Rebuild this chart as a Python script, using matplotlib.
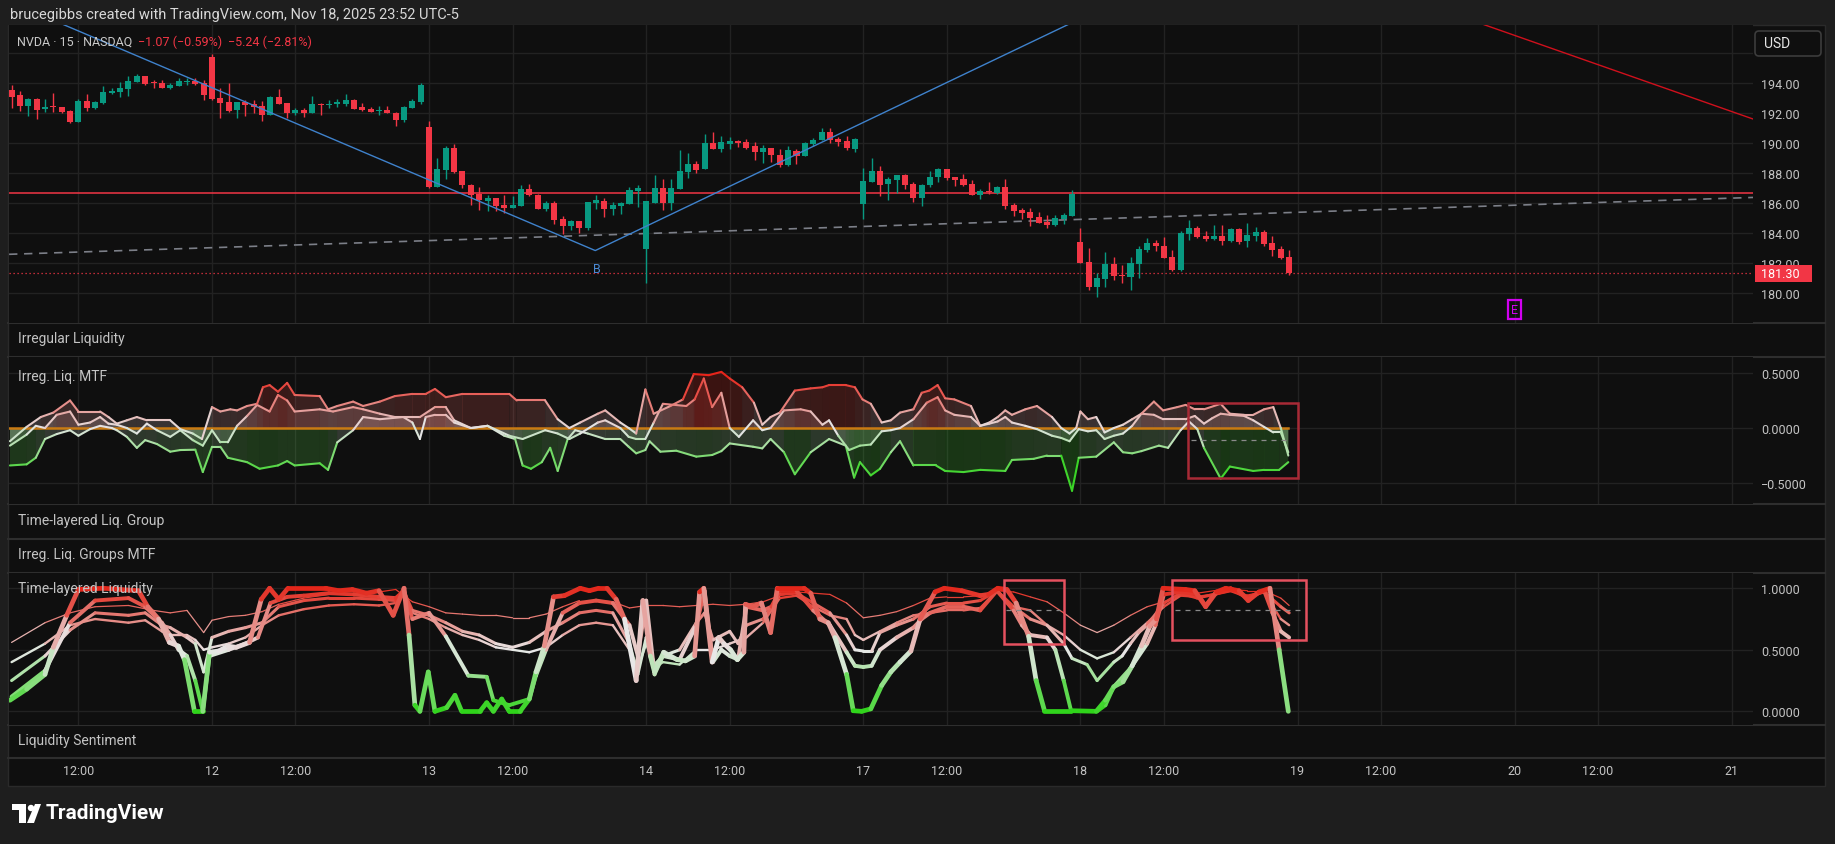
import numpy as np
import matplotlib
matplotlib.use("Agg")
import matplotlib.pyplot as plt
import matplotlib.transforms as mtransforms
from matplotlib.collections import LineCollection, PolyCollection
from matplotlib.colors import LinearSegmentedColormap, Normalize
from matplotlib.patches import Rectangle, FancyBboxPatch, Circle, Polygon

# ---------------- data ----------------
first_bar = -24   # Nov 11, bar index (Nov 12 09:30 = 0, 26 bars per session)

opens = [193.55, 193.21, 192.50, 192.95, 192.30, 192.41, 192.41, 192.15, 191.41, 192.81, 192.35, 192.68, 193.35, 193.41, 193.61, 194.08, 194.48, 194.08, 194.01, 193.68, 193.81, 194.08, 194.15, 194.01,
         195.75, 193.01, 192.75, 192.21, 192.75, 192.61, 192.48, 191.88, 193.08, 192.68, 192.01, 192.21, 192.01, 192.61, 192.55, 192.61, 192.61, 192.88, 192.41, 192.28, 192.15, 192.21, 192.01, 191.55, 192.35, 192.75,
         191.08, 187.08, 188.21, 189.68, 188.15, 187.21, 186.61, 186.15, 186.35, 185.88, 185.68, 185.81, 186.95, 186.55, 185.61, 186.01, 184.95, 184.48, 184.81, 184.35, 186.01, 186.15, 185.61, 185.81, 185.95, 186.81,
         182.95, 186.01, 187.01, 186.01, 186.95, 188.08, 188.61, 188.28, 190.01, 189.61, 189.95, 190.15, 190.08, 189.81, 189.41, 189.68, 189.21, 188.55, 189.48, 189.15, 189.95, 190.21, 190.75, 190.28, 190.15, 189.61,
         185.95, 187.41, 188.15, 187.28, 187.55, 187.88, 187.28, 186.35, 187.21, 187.75, 188.28, 187.75, 187.61, 187.28, 186.55, 186.81, 186.68, 187.08, 185.88, 185.55, 185.41, 185.08, 184.75, 184.55, 184.95, 185.15,
         183.41, 182.08, 180.41, 180.95, 181.95, 181.21, 181.08, 181.95, 182.88, 183.35, 183.15, 182.41, 181.55, 183.95, 184.35, 183.81, 183.61, 183.81, 183.48, 184.28, 183.48, 183.81, 184.08, 183.35, 182.95, 182.41]
highs = [193.90, 193.46, 193.01, 193.01, 192.95, 193.35, 192.41, 192.19, 192.95, 193.28, 192.79, 193.81, 193.68, 194.08, 194.48, 194.61, 194.48, 194.21, 194.21, 194.01, 194.35, 194.35, 194.35, 194.21,
         195.95, 193.68, 194.01, 192.75, 192.90, 192.88, 192.81, 193.12, 193.61, 192.68, 192.35, 192.35, 193.17, 192.66, 192.88, 192.95, 193.28, 192.95, 192.68, 192.41, 192.48, 192.48, 192.08, 192.48, 192.95, 194.01,
         191.48, 189.01, 189.81, 189.95, 188.15, 187.28, 187.08, 186.55, 186.35, 186.55, 186.48, 187.21, 187.28, 186.61, 186.12, 186.12, 185.15, 184.88, 184.81, 186.08, 186.55, 186.35, 186.08, 186.08, 187.08, 187.21,
         186.15, 187.88, 187.61, 187.61, 189.55, 189.35, 188.81, 190.61, 190.75, 190.48, 190.41, 190.21, 190.28, 190.08, 189.88, 189.68, 189.61, 189.81, 189.61, 190.08, 190.35, 191.01, 191.01, 190.41, 190.48, 190.35,
         188.35, 189.01, 188.48, 187.75, 187.88, 187.95, 187.41, 187.28, 188.15, 188.35, 188.28, 187.75, 187.95, 187.55, 186.95, 187.41, 187.15, 187.61, 186.01, 185.68, 185.68, 185.41, 185.21, 185.21, 185.35, 186.88,
         184.35, 183.01, 181.35, 182.75, 182.41, 181.88, 182.41, 183.15, 183.68, 183.55, 183.75, 182.88, 184.15, 184.88, 184.48, 184.15, 184.55, 184.55, 184.35, 184.35, 184.68, 184.41, 184.21, 183.81, 183.15, 182.88]
lows = [192.35, 192.17, 191.84, 191.61, 192.08, 192.08, 192.01, 191.35, 191.41, 192.17, 192.28, 192.61, 193.28, 193.10, 193.17, 194.08, 193.90, 193.68, 193.68, 193.64, 193.81, 193.86, 193.90, 192.88,
        192.88, 191.68, 192.08, 191.68, 191.79, 192.01, 191.48, 191.88, 192.61, 191.68, 191.90, 191.75, 192.01, 191.86, 192.35, 192.41, 192.50, 192.28, 192.17, 192.08, 191.86, 192.01, 191.15, 191.41, 192.35, 192.61,
        187.01, 187.08, 187.61, 188.01, 187.01, 185.88, 185.55, 185.44, 185.48, 185.35, 185.64, 185.81, 186.48, 185.61, 185.48, 184.57, 183.90, 184.17, 184.01, 184.21, 185.61, 185.08, 185.21, 185.28, 185.95, 185.75,
        180.68, 186.01, 185.55, 185.55, 186.95, 187.68, 188.01, 188.28, 189.61, 189.41, 189.61, 189.75, 189.61, 188.88, 188.68, 188.75, 188.41, 188.48, 188.61, 189.15, 189.81, 190.21, 190.01, 189.81, 189.55, 189.41,
        184.95, 187.41, 186.48, 186.21, 186.68, 186.95, 186.08, 185.81, 187.08, 187.41, 187.55, 187.15, 187.15, 186.55, 186.28, 186.61, 186.61, 185.61, 185.15, 184.95, 184.48, 184.68, 184.35, 184.48, 184.57, 185.15,
        182.01, 180.21, 179.75, 180.41, 180.88, 180.68, 180.21, 181.01, 182.75, 182.81, 182.35, 181.48, 181.48, 183.55, 183.68, 183.48, 183.55, 183.21, 183.41, 183.28, 183.08, 183.48, 183.15, 182.48, 182.28, 181.21]
closes = [193.10, 192.50, 192.95, 192.24, 192.41, 192.39, 192.08, 191.41, 192.81, 192.35, 192.75, 193.41, 193.48, 193.68, 194.15, 194.48, 193.95, 194.01, 193.68, 193.88, 194.15, 194.15, 193.95, 193.21,
          192.95, 192.68, 192.15, 192.75, 192.55, 192.41, 191.88, 193.08, 192.61, 192.01, 192.21, 192.01, 192.61, 192.55, 192.61, 192.75, 192.88, 192.28, 192.21, 192.08, 192.21, 192.01, 191.55, 192.41, 192.81, 193.88,
          187.08, 188.28, 189.68, 188.08, 187.21, 186.55, 186.21, 186.35, 185.81, 185.68, 185.88, 186.95, 186.55, 185.61, 186.01, 184.88, 184.48, 184.81, 184.35, 186.08, 186.21, 185.61, 185.88, 186.01, 186.88, 187.01,
          186.15, 187.01, 186.01, 187.01, 188.15, 188.61, 188.21, 190.01, 189.61, 190.08, 190.15, 190.01, 189.68, 189.41, 189.68, 189.21, 188.55, 189.55, 189.15, 190.01, 190.21, 190.75, 190.21, 190.08, 189.68, 190.28,
          187.48, 188.15, 187.21, 187.61, 187.88, 187.21, 186.35, 187.21, 187.75, 188.28, 187.68, 187.55, 187.21, 186.55, 186.81, 186.75, 187.08, 185.81, 185.48, 185.35, 185.01, 184.68, 184.55, 185.01, 185.21, 186.61,
          182.01, 180.41, 181.01, 181.95, 181.15, 181.15, 182.01, 182.95, 183.35, 183.15, 182.35, 181.55, 184.01, 184.35, 183.75, 183.61, 183.81, 183.48, 184.28, 183.41, 183.88, 184.08, 183.28, 182.88, 182.35, 181.30]

last_price = 181.30
resist_level = 186.67
blue_x = [-24.3, 45.9, 105.0]
blue_p = [199.46, 182.82, 198.58]
red_trend_x = [150.0, 184.6]
red_trend_p = [198.37, 191.60]
gray_trend_x = [-24.3, 184.6]
gray_trend_p = [182.57, 186.37]

price_ticks = [180, 182, 184, 186, 188, 190, 192, 194, 196]
tick_pos = [-16, 0, 10, 26, 36, 52, 62, 78, 88, 104, 114, 130, 140, 156, 166, 182]
tick_lab = ["12:00", "12", "12:00", "13", "12:00", "14", "12:00", "17", "12:00", "18",
            "12:00", "19", "12:00", "20", "12:00", "21"]

# Irreg. Liq. MTF : upper, middle and lower lines (bar, value)
mtf_top = [(-24.2, -0.12), (-22.2, 0.01), (-20.5, 0.10), (-19, 0.14), (-17, 0.25), (-16, 0.15), (-13.4, 0.15), (-12.4, 0.10),
           (-11.4, 0.04), (-10.2, 0.07), (-9, 0.10), (-7.8, 0.07), (-5, 0.07), (-3.8, -0.01), (-2.3, -0.05), (-1.2, -0.10),
           (0, 0.19), (1, 0.15), (2.2, 0.17), (3, 0.16), (4.2, 0.20), (5.4, 0.22), (6.1, 0.37), (6.9, 0.39), (7.9, 0.33),
           (9, 0.41), (9.9, 0.30), (12.9, 0.29), (13.9, 0.17), (15, 0.20), (16.9, 0.24), (18.1, 0.20), (20.1, 0.24),
           (21.9, 0.29), (24, 0.31), (25.6, 0.31), (26.7, 0.355), (28, 0.28), (30, 0.31), (35.6, 0.31), (36.5, 0.25),
           (39.9, 0.25), (41.4, 0.08), (42.8, 0.0), (44.1, 0.05), (46.2, 0.13), (47.1, 0.16), (48.9, 0.05), (49.9, 0.0),
           (50.8, -0.05), (51.9, 0.35), (52.9, 0.13), (54.9, 0.20), (56.4, 0.26), (57.7, 0.49), (59.5, 0.48), (61, 0.51),
           (62, 0.45), (63.5, 0.37), (64.9, 0.23), (65.9, 0.03), (66.9, 0.10), (68, 0.14), (69.8, 0.34), (71.7, 0.36),
           (73.1, 0.37), (73.9, 0.39), (75.9, 0.39), (77, 0.37), (77.9, 0.26), (78.9, 0.22), (80.2, 0.05), (81.3, 0.07),
           (82.4, 0.14), (84, 0.17), (85, 0.32), (85.9, 0.34), (86.9, 0.39), (87.8, 0.27), (88.9, 0.26), (90.9, 0.20),
           (92, 0.02), (93.1, 0.05), (94.1, 0.10), (95, 0.16), (95.8, 0.12), (97.4, 0.17), (98.8, 0.20), (100.6, 0.10),
           (101.7, 0.0), (102.7, -0.05), (103.5, 0.0), (104, 0.15), (104.9, 0.08), (105.9, 0.10), (106.9, -0.04),
           (108, 0.0), (109.1, 0.03), (110.2, 0.08), (111.3, 0.13), (112.8, 0.24), (113.9, 0.16), (115.6, 0.19),
           (116.6, 0.21), (117.7, 0.17), (118.8, 0.17), (120.8, 0.22), (121.9, 0.13), (123.6, 0.12), (124.7, 0.12),
           (126, 0.17), (127.1, 0.19), (128, 0.0), (128.9, -0.25)]
mtf_mid = [(-24.2, -0.16), (-22.2, -0.06), (-21.1, 0.02), (-20, 0.0), (-18.6, 0.12), (-17, 0.15), (-16, 0.03), (-14.6, 0.05),
           (-13.4, 0.10), (-12.4, 0.04), (-11.4, 0.03), (-10.2, 0.0), (-9, -0.05), (-7.8, 0.04), (-6.6, -0.02), (-5, -0.08),
           (-3.8, -0.02), (-2.3, -0.11), (-1.1, -0.16), (0, -0.02), (1, -0.13), (1.9, -0.13), (3, 0.02), (4.2, 0.11),
           (5.4, 0.21), (6.9, 0.15), (7.9, 0.30), (9, 0.25), (9.9, 0.15), (12.9, 0.17), (14.5, 0.15), (16.9, 0.19),
           (18.1, 0.17), (20.1, 0.13), (21.9, 0.10), (24.9, 0.10), (26.7, 0.19), (28, 0.19), (29, 0.07), (31, 0.0),
           (33, 0.02), (35.6, -0.07), (37.2, -0.10), (39.9, -0.02), (41.4, -0.05), (42.8, -0.10), (44.1, -0.05),
           (46.2, 0.05), (47.1, 0.07), (48.9, 0.0), (49.9, -0.08), (50.8, -0.10), (51.9, -0.10), (52.9, 0.05), (54, 0.22),
           (56.8, 0.20), (57.8, 0.26), (58.9, 0.45), (59.9, 0.19), (61, 0.32), (62, 0.0), (63.1, -0.08), (64.8, 0.07),
           (65.9, -0.02), (66.9, 0.0), (68.5, 0.16), (70.5, 0.17), (71.7, 0.15), (73.1, 0.03), (73.9, 0.07), (75, -0.07),
           (76.3, -0.20), (77.6, -0.16), (78.9, -0.15), (80.2, -0.03), (81.3, -0.02), (82.4, 0.0), (84, 0.08),
           (85.6, 0.23), (86.9, 0.28), (87.8, 0.16), (88.9, 0.12), (90.9, 0.10), (92, 0.02), (93.1, 0.04), (94.1, 0.06),
           (95, 0.10), (95.8, 0.05), (97.4, 0.02), (98.8, -0.01), (100.6, -0.07), (101.7, -0.09), (102.7, -0.12),
           (103.8, -0.01), (104.9, -0.03), (105.9, -0.02), (106.9, -0.10), (108, -0.07), (109.1, -0.05), (110.2, 0.02),
           (111.3, 0.13), (112.8, 0.12), (113.9, 0.08), (116.6, 0.08), (117.7, 0.11), (118.8, 0.04), (119.8, 0.09),
           (120.8, 0.13), (121.9, 0.12), (123.6, 0.11), (124.7, 0.07), (126, 0.01), (127.1, -0.04), (128, -0.04),
           (128.9, -0.22)]
mtf_low = [(-24.2, -0.34), (-22.2, -0.33), (-21.1, -0.27), (-20, -0.10), (-18.6, -0.055), (-17, -0.02), (-16, -0.07),
           (-14.6, -0.01), (-13.4, 0.02), (-12, 0.0), (-11.4, -0.02), (-10.2, -0.08), (-9, -0.18), (-8, -0.11),
           (-6.6, -0.145), (-5, -0.215), (-3.8, -0.20), (-2, -0.197), (-1.1, -0.40), (0, -0.17), (1, -0.17), (1.9, -0.27),
           (4.2, -0.31), (5.7, -0.37), (7.9, -0.34), (9, -0.30), (9.9, -0.34), (12.9, -0.32), (13.9, -0.38), (15, -0.13),
           (16.9, -0.02), (18.1, 0.10), (20.1, 0.08), (22.9, 0.10), (24, 0.05), (24.9, -0.10), (25.6, 0.10), (26.7, 0.12),
           (28, 0.12), (29, 0.05), (31, 0.0), (33, 0.02), (35, -0.07), (36.3, -0.10), (37.2, -0.34), (38.2, -0.37),
           (39.5, -0.31), (40.5, -0.18), (41.4, -0.39), (42.6, -0.10), (43.5, -0.02), (45, -0.05), (47.1, -0.10),
           (48.9, -0.10), (49.9, -0.17), (50.8, -0.23), (51.9, -0.20), (52.4, -0.12), (53.7, -0.215), (55.6, -0.206),
           (58, -0.26), (59.9, -0.245), (61, -0.21), (62, -0.14), (64.8, -0.17), (65.9, -0.185), (66.9, -0.10),
           (68.5, -0.22), (69.8, -0.42), (71.7, -0.22), (73.9, -0.10), (75.9, -0.16), (76.9, -0.45), (77.6, -0.31),
           (78.9, -0.43), (80, -0.37), (81.3, -0.22), (82.4, -0.12), (84, -0.34), (86.7, -0.34), (87.8, -0.39),
           (90, -0.40), (92, -0.38), (95, -0.39), (95.8, -0.29), (98.4, -0.28), (100, -0.25), (101.7, -0.25),
           (103, -0.57), (103.8, -0.27), (105.9, -0.26), (108, -0.13), (109.1, -0.22), (110.2, -0.23), (111.3, -0.21),
           (113.4, -0.16), (114.5, -0.18), (116, -0.02), (117, 0.06), (118, -0.01), (118.8, -0.18), (120.8, -0.46),
           (121.9, -0.35), (124.7, -0.39), (126, -0.38), (127.8, -0.38), (128.9, -0.31)]
mtf_last_bar = 128.9
mtf_box = (116.9, 130.1, -0.455, 0.227)      # bar from, bar to, value low, value high
mtf_box_mid = -0.11

# Time-layered Liquidity: five layers, thickest first (bar, value)
tl_1 = [(-24.2, 0.09), (-22.2, 0.18), (-20, 0.30), (-19, 0.52), (-17.4, 0.78), (-16, 0.99), (-13, 1.0), (-11, 0.99),
        (-8.8, 0.98), (-7.7, 0.85), (-6.4, 0.75), (-5.1, 0.56), (-4, 0.53), (-3.3, 0.42), (-2.1, 0.0), (-1.1, 0.0),
        (-0.3, 0.48), (0.8, 0.49), (1.9, 0.53), (2.9, 0.52), (4.5, 0.56), (5.9, 0.91), (6.9, 1.0), (8, 0.91), (9.1, 1.0),
        (13.6, 1.0), (15.2, 0.98), (16.8, 0.99), (18.5, 0.96), (20, 0.98), (21.7, 0.78), (23, 1.0), (23.6, 0.62),
        (24.3, 0.05), (24.9, 0.0), (25.9, 0.32), (26.7, 0.0), (28.1, 0.03), (29.1, 0.13), (29.9, 0.0), (32.1, 0.0),
        (32.9, 0.07), (33.7, 0.0), (34.7, 0.10), (35.6, 0.0), (36.9, 0.0), (38, 0.10), (38.8, 0.32), (39.8, 0.53),
        (40.9, 0.93), (42.2, 0.94), (44.1, 1.0), (45.2, 0.98), (46.3, 1.0), (47.3, 1.0), (48.4, 0.91), (49.4, 0.75),
        (50.8, 0.25), (51.6, 0.90), (52.5, 0.45), (53, 0.32), (54.1, 0.48), (55.7, 0.42), (56.7, 0.41), (57.8, 0.45),
        (58.4, 0.97), (58.9, 1.0), (59.9, 0.40), (60.7, 0.60), (61.3, 0.55), (62.1, 0.50), (62.9, 0.42), (63.7, 0.48),
        (63.9, 0.87), (64.7, 0.85), (65.8, 0.88), (66.9, 0.64), (67.7, 1.0), (70.9, 1.0), (71.7, 0.96), (72.8, 0.75),
        (73.8, 0.72), (74.6, 0.60), (76, 0.30), (76.8, 0.005), (77.8, 0.0), (78.9, 0.02), (80.2, 0.21), (81.3, 0.32),
        (82.4, 0.40), (83.7, 0.49), (84.8, 0.75), (86.6, 0.97), (87.7, 1.0), (89.8, 0.98), (92, 0.94), (93, 0.95),
        (94.1, 1.0), (95.2, 0.99), (96.3, 0.88), (97.8, 0.61), (98.7, 0.25), (99.7, 0.005), (102.9, 0.005), (105.9, 0.0),
        (107, 0.09), (108, 0.20), (109.1, 0.24), (110.2, 0.37), (111.3, 0.53), (112.3, 0.69), (113.1, 0.75), (113.9, 1.0),
        (116.6, 0.99), (117.7, 0.98), (119, 0.85), (120.3, 0.97), (121.4, 1.0), (123, 0.98), (124.1, 0.90),
        (125.4, 0.97), (126.7, 1.0), (127.8, 0.50), (128.9, 0.0)]
tl_2 = [(-24, 0.12), (-20, 0.33), (-17, 0.72), (-14, 0.90), (-10, 0.92), (-8, 0.85), (-6, 0.72), (-5, 0.62), (-4, 0.50),
        (-3, 0.45), (-2, 0.25), (-1.1, 0.0), (-0.3, 0.45), (2, 0.50), (4, 0.55), (5.5, 0.60), (7, 0.88), (9, 0.93),
        (11, 0.94), (14, 0.96), (17, 0.95), (20, 0.93), (22, 0.92), (23, 0.98), (24, 0.75), (26, 0.80), (28, 0.61),
        (30.7, 0.29), (32.9, 0.28), (33.7, 0.09), (35.6, 0.05), (38, 0.10), (38.8, 0.29), (40, 0.50), (42, 0.80),
        (44, 0.88), (46, 0.90), (48, 0.88), (50, 0.70), (51, 0.45), (52, 0.90), (53, 0.30), (54, 0.45), (56, 0.42),
        (58, 0.70), (59, 0.98), (60, 0.40), (61, 0.50), (62, 0.45), (63, 0.42), (64, 0.85), (66, 0.82), (67, 0.85),
        (68, 0.98), (70, 0.98), (72, 0.82), (74, 0.70), (76, 0.48), (77, 0.37), (78, 0.36), (79, 0.37), (80, 0.50),
        (82, 0.60), (84, 0.68), (85, 0.75), (86, 0.80), (88, 0.85), (90, 0.85), (92, 0.82), (94, 0.98), (96, 0.82),
        (97, 0.70), (98, 0.62), (100, 0.60), (101, 0.50), (102, 0.25), (102.9, 0.0), (104, 0.0), (106, 0.0), (107, 0.05),
        (108, 0.20), (110, 0.35), (112, 0.55), (113, 0.70), (114, 0.95), (116, 0.97), (118, 0.95), (119, 0.86),
        (120, 0.95), (122, 1.0), (124, 0.92), (126, 0.98), (127, 0.80), (128, 0.65), (129, 0.60)]
tl_3 = [(-24, 0.25), (-20, 0.45), (-17, 0.66), (-14, 0.80), (-10, 0.78), (-8, 0.80), (-6, 0.70), (-5, 0.68), (-3, 0.60),
        (-2, 0.55), (-1, 0.32), (0, 0.60), (2, 0.65), (4, 0.68), (6, 0.72), (8, 0.85), (11, 0.90), (14, 0.92), (17, 0.92),
        (20, 0.91), (22, 0.90), (23, 0.97), (24, 0.82), (26, 0.78), (28, 0.72), (30, 0.65), (32, 0.62), (34, 0.55),
        (36, 0.52), (38, 0.56), (40, 0.65), (42, 0.72), (44, 0.80), (46, 0.82), (48, 0.80), (50, 0.55), (51, 0.30),
        (52, 0.60), (53, 0.38), (54, 0.45), (56, 0.50), (58, 0.72), (59, 0.80), (60, 0.58), (62, 0.65), (63, 0.55),
        (64, 0.70), (66, 0.75), (68, 0.95), (70, 0.96), (72, 0.88), (74, 0.80), (76, 0.62), (77, 0.50), (78, 0.49),
        (79, 0.49), (80, 0.64), (82, 0.70), (84, 0.75), (86, 0.85), (88, 0.88), (90, 0.88), (92, 0.90), (94, 0.98),
        (96, 0.85), (98, 0.75), (100, 0.70), (102, 0.55), (103, 0.43), (104.8, 0.38), (106, 0.25), (108, 0.40),
        (109, 0.45), (110, 0.55), (111, 0.64), (112, 0.70), (114, 0.88), (116, 0.96), (118, 0.92), (120, 0.95),
        (122, 0.98), (124, 0.93), (126, 0.97), (128, 0.85), (129, 0.80)]
tl_4 = [(-24, 0.40), (-20, 0.55), (-17, 0.70), (-14, 0.75), (-10, 0.72), (-8, 0.74), (-6, 0.65), (-5, 0.62), (-3, 0.62),
        (-2, 0.58), (-1, 0.50), (0, 0.52), (2, 0.55), (4, 0.60), (6, 0.70), (8, 0.78), (11, 0.83), (14, 0.86), (17, 0.87),
        (20, 0.86), (22, 0.88), (23, 0.95), (24, 0.80), (26, 0.75), (28, 0.68), (30, 0.62), (32, 0.58), (34, 0.52),
        (36, 0.50), (38, 0.48), (40, 0.52), (42, 0.62), (44, 0.70), (46, 0.72), (48, 0.70), (50, 0.50), (51, 0.35),
        (52, 0.55), (53, 0.35), (54, 0.40), (56, 0.38), (58, 0.50), (60, 0.50), (62, 0.55), (64, 0.60), (66, 0.72),
        (68, 0.92), (70, 0.94), (72, 0.85), (74, 0.78), (76, 0.75), (77, 0.62), (78, 0.58), (80, 0.65), (82, 0.72),
        (84, 0.78), (86, 0.80), (88, 0.82), (90, 0.82), (92, 0.84), (94, 0.98), (96, 0.85), (98, 0.82), (100, 0.70),
        (102, 0.62), (104, 0.50), (106, 0.43), (108, 0.48), (110, 0.60), (112, 0.72), (114, 0.85), (116, 0.94),
        (118, 0.93), (120, 0.95), (122, 0.98), (124, 0.94), (126, 0.97), (128, 0.75), (129, 0.70)]
tl_5 = [(-24, 0.56), (-20, 0.72), (-17, 0.80), (-14, 0.85), (-10, 0.86), (-7, 0.82), (-5, 0.80), (-3, 0.82), (-1, 0.64),
        (0, 0.74), (2, 0.77), (4, 0.78), (6, 0.81), (8, 0.87), (11, 0.92), (14, 0.95), (17, 0.96), (20, 0.97), (22, 0.99),
        (24, 0.89), (26, 0.85), (28, 0.80), (30, 0.79), (32, 0.78), (34, 0.78), (36, 0.76), (38, 0.76), (40, 0.79),
        (42, 0.85), (44, 0.90), (46, 0.90), (48, 0.89), (50, 0.84), (52, 0.86), (54, 0.86), (56, 0.85), (58, 0.86),
        (60, 0.87), (62, 0.86), (64, 0.87), (66, 0.89), (68, 0.94), (70, 0.97), (72, 0.96), (74, 0.95), (76, 0.88),
        (78, 0.76), (80, 0.78), (82, 0.81), (84, 0.86), (86, 0.92), (88, 0.93), (90, 0.93), (92, 0.94), (94, 0.98),
        (96, 0.97), (98, 0.93), (100, 0.89), (102, 0.80), (104, 0.70), (106, 0.64), (108, 0.70), (110, 0.78),
        (112, 0.85), (114, 0.89), (116, 0.94), (118, 0.96), (120, 0.98), (122, 0.99), (124, 0.98), (126, 0.98),
        (128, 0.92), (129, 0.86)]
tl_boxes = [(94.9, 102.0, 0.551, 1.067), (115.0, 131.0, 0.58, 1.065)]
tl_box_mid = 0.82
tl_mid_spans = [(95.1, 101.6), (115.3, 130.7)]

# ---------------- layout ----------------
W, H = 1835, 845
BG_OUT = "#1e1e1e"
BG = "#0f0f0f"
GRID = "#222222"
SEP = "#2e2e2e"
TXT = "#c4c4c4"
RED = "#f23645"
GREEN = "#089981"
X0, X1 = -24.31, 184.55
PL, PR = 9, 1753

plt.rcParams["font.family"] = ["Roboto", "DejaVu Sans"]

fig = plt.figure(figsize=(W / 100, H / 100), dpi=100)
fig.patch.set_facecolor(BG_OUT)
renderer = fig.canvas.get_renderer()


def px_rect(x0, y0, x1, y1):
    return [x0 / W, 1 - y1 / H, (x1 - x0) / W, (y1 - y0) / H]


def pixel_axes(z):
    a = fig.add_axes([0, 0, 1, 1], zorder=z)
    a.set_xlim(0, W)
    a.set_ylim(H, 0)
    a.axis("off")
    a.patch.set_alpha(0)
    return a


# background frame and separators (below the panes)
bg = pixel_axes(0)
bg.add_patch(Rectangle((8, 26), 1817, 761, fc=BG, ec="#2a2a2a", lw=1))
for y in [324, 358, 505, 539.5, 573.5, 725.5, 758.5]:
    bg.plot([8, 1825], [y, y], color=SEP, lw=1.5)

# texts and badges (above the panes)
top = pixel_axes(20)
top.text(10, 15, "brucegibbs created with TradingView.com, Nov 18, 2025 23:52 UTC-5",
         color="#d8d8d8", fontsize=10.5, va="center", ha="left")

# legend line: symbol then the two red change values, laid out one after the other
legend_parts = [("NVDA · 15 · NASDAQ", "#c8c8c8"), ("\u22121.07 (\u22120.59%)", RED), ("\u22125.24 (\u22122.81%)", RED)]
lx = 17
for txt, colr in legend_parts:
    t = top.text(lx, 42, txt, color=colr, fontsize=9, va="center", ha="left")
    lx = t.get_window_extent(renderer).x1 + 6

titles = [(339, "Irregular Liquidity"), (377, "Irreg. Liq. MTF"), (521, "Time-layered Liq. Group"),
          (555, "Irreg. Liq. Groups MTF"), (589, "Time-layered Liquidity"), (741, "Liquidity Sentiment")]
for y, t in titles:
    top.text(18, y, t, color=TXT, fontsize=10, va="center", ha="left")

top.add_patch(FancyBboxPatch((1755, 32), 66, 25, boxstyle="round,pad=0,rounding_size=4",
                             fc=BG, ec="#3c3c3c", lw=1.2))
top.text(1764, 44.5, "USD", color="#e6e6e6", fontsize=10, va="center")

# TradingView logo
top.add_patch(Rectangle((12, 805), 14, 6, fc="white", ec="none"))
top.add_patch(Rectangle((19, 805), 7, 19, fc="white", ec="none"))
top.add_patch(Circle((31, 809), 3.2, fc="white", ec="none"))
top.add_patch(Polygon([(27, 824), (34, 824), (41, 805), (35, 805)], closed=True, fc="white", ec="none"))
top.text(46, 814, "TradingView", color="white", fontsize=15, fontweight="bold", va="center", ha="left")


def pane(y0, y1, ylim, yticks, ylabels):
    ax = fig.add_axes(px_rect(PL, y0, PR, y1), zorder=2)
    ax.set_facecolor(BG)
    for s in ax.spines.values():
        s.set_visible(False)
    ax.set_xlim(X0, X1)
    ax.set_ylim(*ylim)
    ax.set_xticks(tick_pos)
    ax.set_xticklabels([])
    ax.set_yticks(yticks)
    ax.set_yticklabels(ylabels)
    ax.yaxis.tick_right()
    ax.tick_params(axis="both", length=0)
    ax.tick_params(axis="y", pad=6, labelsize=9, labelcolor=TXT)
    ax.grid(True, color=GRID, lw=1)
    ax.set_axisbelow(True)
    return ax


def colored_line(ax, pts, cmap, norm, lw, z):
    xs = np.array([p[0] for p in pts])
    vs = np.array([p[1] for p in pts])
    segs = np.stack([np.column_stack([xs[:-1], vs[:-1]]), np.column_stack([xs[1:], vs[1:]])], axis=1)
    cols = cmap(norm((vs[:-1] + vs[1:]) / 2))
    lc = LineCollection(segs, colors=cols, linewidths=lw, zorder=z, capstyle="round", joinstyle="round")
    ax.add_collection(lc)
    return xs, vs


# ---------------- price pane ----------------
axp = pane(26, 324, (177.98, 197.89), price_ticks,
           ["%.2f" % p if p < 195 else "" for p in price_ticks])

bars = np.arange(first_bar, first_bar + len(opens))
o, h, l, c = map(np.array, (opens, highs, lows, closes))
col = np.where(c >= o, GREEN, RED)
axp.vlines(bars, l, h, colors=col, lw=1, zorder=3)
axp.bar(bars, np.maximum(np.abs(c - o), 0.06), bottom=np.minimum(o, c), width=0.72, color=col, zorder=4)

axp.axhline(resist_level, color=RED, lw=1.1, zorder=2)
axp.axhline(last_price, color=RED, lw=0.9, ls=(0, (1, 2.2)), zorder=2)
axp.plot(gray_trend_x, gray_trend_p, color="#7c7f88", lw=1.2, ls=(0, (5, 4)), zorder=2)
axp.plot(blue_x, blue_p, color="#3f82cc", lw=1.0, zorder=5)
axp.plot(red_trend_x, red_trend_p, color="#d0101c", lw=1.0, zorder=5)
axp.text(46.1, 181.6, "B", color="#4a8ad6", fontsize=9, ha="center", va="center", zorder=6)
axp.text(156, 178.9, "E", color="#d000f0", fontsize=9, ha="center", va="center", zorder=6,
         bbox=dict(boxstyle="square,pad=0.25", fc="none", ec="#d000f0", lw=1.6))

trans = mtransforms.blended_transform_factory(axp.transAxes, axp.transData)
axp.add_patch(Rectangle((1.001, last_price - 0.55), 0.033, 1.1, transform=trans, fc=RED, ec="none",
                        clip_on=False, zorder=7))
axp.text(1.0047, last_price, "%.2f" % last_price, transform=trans, color="white", fontsize=9,
         va="center", ha="left", zorder=8)

# ---------------- Irreg. Liq. MTF pane ----------------
axm = pane(358, 505, (-0.69, 0.645), [0.5, 0.0, -0.5], ["0.5000", "0.0000", "\u22120.5000"])
mtf_cmap = LinearSegmentedColormap.from_list("mtf", ["#2fd41a", "#e4e4e4", "#e8241a"])
mtf_norm = Normalize(-0.45, 0.45)
for series in (mtf_low, mtf_mid, mtf_top):
    xs = np.array([p[0] for p in series])
    vs = np.array([p[1] for p in series])
    polys = [[(xs[i], 0), (xs[i], vs[i]), (xs[i + 1], vs[i + 1]), (xs[i + 1], 0)] for i in range(len(xs) - 1)]
    fc = mtf_cmap(mtf_norm((vs[:-1] + vs[1:]) / 2))
    fc[:, 3] = 0.2
    axm.add_collection(PolyCollection(polys, facecolors=fc, edgecolors="none", zorder=2))
axm.plot([X0, mtf_last_bar], [0, 0], color="#c97a12", lw=1.8, zorder=3)
for series in (mtf_low, mtf_mid, mtf_top):
    colored_line(axm, series, mtf_cmap, mtf_norm, 1.5, 4)
bx0, bx1, by0, by1 = mtf_box
axm.add_patch(Rectangle((bx0, by0), bx1 - bx0, by1 - by0, fc="none", ec="#a82a36", lw=1.8, zorder=6))
axm.plot([bx0 + 0.3, mtf_last_bar], [mtf_box_mid, mtf_box_mid], color="#8a8a8a", lw=0.9, ls=(0, (4, 4)), zorder=5)

# ---------------- Time-layered Liquidity pane ----------------
axt = pane(573.5, 725.5, (-0.107, 1.128), [1.0, 0.5, 0.0], ["1.0000", "0.5000", "0.0000"])
tl_cmap = LinearSegmentedColormap.from_list("tl", [(0, "#2fd41a"), (0.5, "#e8e8e8"), (1, "#e3261a")])
tl_norm = Normalize(0, 1)
for series, lw, z in [(tl_5, 0.9, 3), (tl_4, 1.7, 4), (tl_3, 2.2, 5), (tl_2, 2.8, 6), (tl_1, 3.4, 7)]:
    colored_line(axt, series, tl_cmap, tl_norm, lw, z)
for (a, b, v0, v1) in tl_boxes:
    axt.add_patch(Rectangle((a, v0), b - a, v1 - v0, fc="none", ec="#e5515f", lw=1.8, zorder=9))
for (a, b) in tl_mid_spans:
    axt.plot([a, b], [tl_box_mid, tl_box_mid], color="#8a8a8a", lw=0.9, ls=(0, (4, 4)), zorder=8)

# ---------------- time axis ----------------
axx = fig.add_axes(px_rect(PL, 758.5, PR, 786), zorder=2)
axx.set_xlim(X0, X1)
axx.set_ylim(0, 1)
axx.axis("off")
for p, t in zip(tick_pos, tick_lab):
    axx.text(p, 0.52, t, color=TXT, fontsize=9, ha="center", va="center")

fig.savefig("out.png", dpi=100, facecolor=fig.get_facecolor())
